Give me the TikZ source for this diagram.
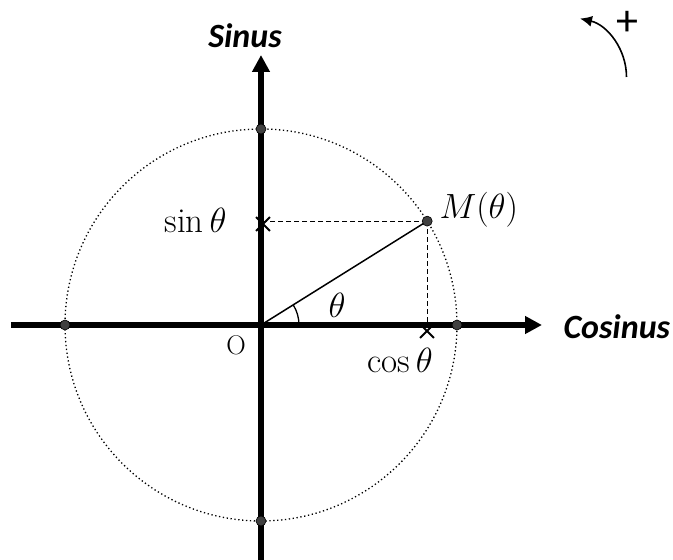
\RequirePackage{fix-cm}
\documentclass[tikz,border=0pt]{standalone}
\usepackage{fontspec}
\newfontfamily\axisfont{Carlito}
\usetikzlibrary{arrows.meta,positioning,shapes.misc}

\begin{document}
\begin{tikzpicture}[x=1pt,y=1pt,
    every node/.style={font=\fontsize{35}{40}\selectfont},
    axe/.style={line width=5.5pt,-{Triangle[length=17pt,width=17pt]}},
    axelabel/.style={font=\fontsize{34}{38}\selectfont\axisfont\bfseries\itshape},
    pointc/.style={circle,fill=black!75,draw=black,line width=0.6pt,inner sep=0pt,minimum size=10pt},
    proj/.style={line width=1pt,dash pattern=on 5pt off 3pt},
    marque/.style={cross out,draw,line width=1.8pt,inner sep=0pt,minimum size=12pt}]
  \useasboundingbox (-261,-235) rectangle (412,325);

  % cercle trigonometrique
  \coordinate (O) at (0,0);
  \draw[line width=1.3pt,dash pattern=on 1.3pt off 2.6pt] (O) circle[radius=196];

  % projections de M
  \coordinate (M) at (32:196);
  \node[marque] (xsin) at (2,101) {};
  \node[marque] (xcos) at (166,-6) {};
  \coordinate (Msin) at (0,0 |- M);
  \coordinate (Mcos) at (M |- O);
  \draw[proj] (M) -- (Msin);
  \draw[proj] (M) -- (Mcos);
  \draw[line width=1.5pt] (O) -- (M);
  \draw[line width=1.3pt] (O) ++(38,0) arc[start angle=0,end angle=32,radius=38];

  % axes
  \coordinate (xg) at (-250,0);
  \coordinate (xd) at (281,0);
  \coordinate (yb) at (0,-240);
  \coordinate (yh) at (0,270);
  \draw[axe] (xg) -- (xd);
  \draw[axe] (yb) -- (yh);

  % points du cercle
  \node[pointc] (pM) at (M) {};
  \node[pointc] (pE) at (0:196) {};
  \node[pointc] (pN) at (90:196) {};
  \node[pointc] (pW) at (180:196) {};
  \node[pointc] (pS) at (270:196) {};

  % textes
  \node[anchor=base east] (sinlab) at (-31,92) {$\sin\theta$};
  \node[anchor=base] (coslab) at (139,-47) {$\cos\theta$};
  \node[anchor=base west] (Mlab) at (175,106) {$M(\theta)$};
  \node[anchor=base west] (thlab) at (64,8) {$\theta$};
  \node[anchor=base,font=\fontsize{27}{30}\selectfont] (Olab) at (-25,-30) {O};
  \node[axelabel,anchor=base] (sinus) at (-16,277) {Sinus};
  \node[axelabel,anchor=base west] (cosinus) at (299,-13) {Cosinus};

  % sens direct
  \coordinate (rot) at (365.5,248);
  \draw[line width=1.6pt,-{Latex[length=12pt,width=11pt]}] (rot) arc[start angle=0,end angle=77,radius=60];
  \node[font=\fontsize{44}{48}\selectfont\axisfont] (plus) at (366,302) {+};
\end{tikzpicture}
\end{document}
